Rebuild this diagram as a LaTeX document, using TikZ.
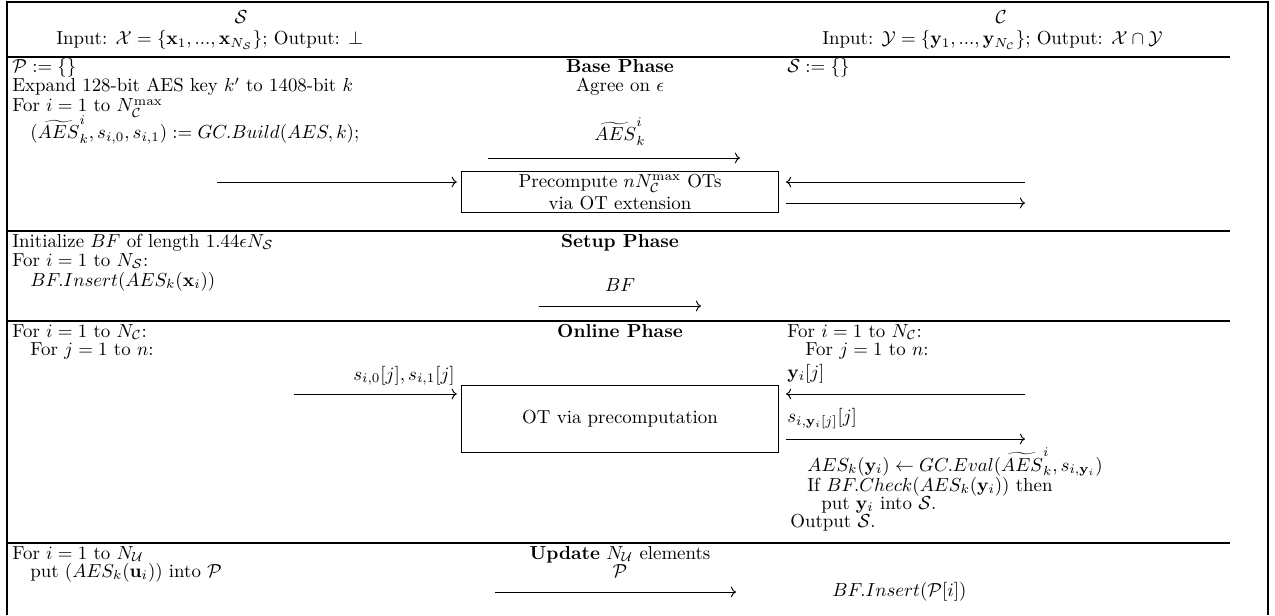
\documentclass[tikz,border=0pt]{standalone}
\usetikzlibrary{arrows.meta}
\begin{document}
\begin{tikzpicture}[x=0.53pt,y=-0.53pt,
  txt/.style={anchor=base west,inner sep=0pt},
  ctr/.style={anchor=base,inner sep=0pt},
  msg/.style={->,line width=0.5pt},
  hrule/.style={line width=0.75pt},
  frame/.style={line width=0.75pt},
  otbox/.style={draw,line width=0.55pt,minimum width=168.5pt,align=center,inner sep=0pt}]
\useasboundingbox (0,0) rectangle (1275,615);
% frame
\draw[frame] (7,615) -- (7,2) -- (1268,2) -- (1268,615);
% header
\node[ctr] (hs) at (241,24) {$\mathcal{S}$};
\node[txt] (hin) at (56,45) {Input: $\mathcal{X}=\{\mathbf{x}_1,...,\mathbf{x}_{N_\mathcal{S}}\}$; Output: $\perp$};
\node[ctr] (hc) at (1001,24) {$\mathcal{C}$};
\node[txt] (hout) at (822,45) {Input: $\mathcal{Y}=\{\mathbf{y}_1,...,\mathbf{y}_{N_\mathcal{C}}\}$; Output: $\mathcal{X}\cap\mathcal{Y}$};
\draw[hrule] (7,57) -- (1230,57);
% base phase
\node[txt] (b1) at (12,73) {$\mathcal{P}:=\{\}$};
\node[txt] (b2) at (12,92) {Expand 128-bit AES key $k'$ to 1408-bit $k$};
\node[txt] (b3) at (12,112) {For $i=1$ to $N_\mathcal{C}^{\max}$};
\node[txt] (b4) at (30,139) {$(\widetilde{AES}^i_k,s_{i,0},s_{i,1}):=GC.Build(AES,k)$;};
\node[ctr] (bph) at (620,73) {\textbf{Base Phase}};
\node[ctr] (agr) at (620,92) {Agree on $\epsilon$};
\node[ctr] (aesl) at (620,141) {$\widetilde{AES}^i_k$};
\coordinate (a1s) at (488,158);
\coordinate (a1e) at (740,158);
\draw[msg] (a1s) -- (a1e);
\node[txt] (cs) at (787,73) {$\mathcal{S}:=\{\}$};
\node[otbox,minimum height=21.7pt] (box1) at (620,192) {Precompute $nN_\mathcal{C}^{\max}$ OTs\\[-0.5pt]via OT extension};
\coordinate (a2s) at (217,182);
\draw[msg,shorten >=2pt] (a2s) -- (box1.west |- a2s);
\coordinate (a3s) at (1025,182);
\draw[msg,shorten >=3.5pt] (a3s) -- (box1.east |- a3s);
\coordinate (a4e) at (1025,203);
\draw[msg,shorten <=3.5pt] (box1.east |- a4e) -- (a4e);
% setup phase
\draw[hrule] (7,231) -- (1230,231);
\node[txt] (s1) at (12,247) {Initialize $BF$ of length $1.44\epsilon N_\mathcal{S}$};
\node[txt] (s2) at (12,266) {For $i=1$ to $N_\mathcal{S}$:};
\node[txt] (s3) at (30,286) {$BF.Insert(AES_k(\mathbf{x}_i))$};
\node[ctr] (sph) at (620,247) {\textbf{Setup Phase}};
\node[ctr] (bfl) at (620,291) {$BF$};
\coordinate (a5s) at (539,306);
\coordinate (a5e) at (701,306);
\draw[msg] (a5s) -- (a5e);
% online phase
\draw[hrule] (7,321) -- (1230,321);
\node[txt] (o1) at (12,337) {For $i=1$ to $N_\mathcal{C}$:};
\node[txt] (o2) at (30,355) {For $j=1$ to $n$:};
\node[ctr,anchor=base east] (sl) at (455,380) {$s_{i,0}[j],s_{i,1}[j]$};
\node[otbox,minimum height=35.5pt] (box2) at (620,419) {OT via precomputation};
\coordinate (a6s) at (294,394);
\draw[msg,shorten >=2pt] (a6s) -- (box2.west |- a6s);
\node[ctr] (oph) at (620,337) {\textbf{Online Phase}};
\node[txt] (r1) at (787,337) {For $i=1$ to $N_\mathcal{C}$:};
\node[txt] (r2) at (805,355) {For $j=1$ to $n$:};
\node[txt] (r3) at (787,378) {$\mathbf{y}_i[j]$};
\coordinate (a7s) at (1025,394);
\draw[msg,shorten >=3.5pt] (a7s) -- (box2.east |- a7s);
\node[txt] (r4) at (787,422) {$s_{i,\mathbf{y}_i[j]}[j]$};
\coordinate (a8e) at (1025,439);
\draw[msg,shorten <=3.5pt] (box2.east |- a8e) -- (a8e);
\node[txt] (r5) at (807,471) {$AES_k(\mathbf{y}_i)\leftarrow GC.Eval(\widetilde{AES}^i_k,s_{i,\mathbf{y}_i})$};
\node[txt] (r6) at (807,491) {If $BF.Check(AES_k(\mathbf{y}_i))$ then};
\node[txt] (r7) at (821,509) {put $\mathbf{y}_i$ into $\mathcal{S}$.};
\node[txt] (r8) at (790,527) {Output $\mathcal{S}$.};
% update
\draw[hrule] (7,543) -- (1230,543);
\node[txt] (u1) at (12,559) {For $i=1$ to $N_\mathcal{U}$};
\node[txt] (u2) at (30,577) {put $(AES_k(\mathbf{u}_i))$ into $\mathcal{P}$};
\node[ctr] (uph) at (620,559) {\textbf{Update} $N_\mathcal{U}$ elements};
\node[ctr] (pl) at (620,577) {$\mathcal{P}$};
\coordinate (a9s) at (495,592);
\coordinate (a9e) at (736,592);
\draw[msg] (a9s) -- (a9e);
\node[txt] (u3) at (832,596) {$BF.Insert(\mathcal{P}[i])$};
\end{tikzpicture}
\end{document}
